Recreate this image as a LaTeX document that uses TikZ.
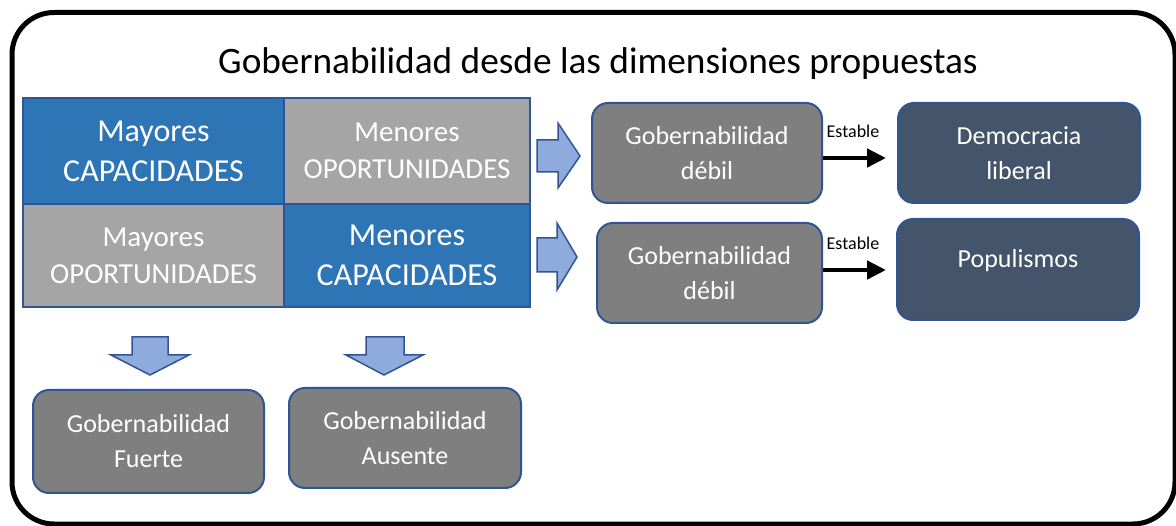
\documentclass[tikz,border=0pt]{standalone}
\usepackage{fontspec}
\setmainfont{Carlito}
\usetikzlibrary{arrows.meta}
\definecolor{cblue}{HTML}{2E75B6}
\definecolor{cgray}{HTML}{A5A5A5}
\definecolor{boxgray}{HTML}{7F7F7F}
\definecolor{navy}{HTML}{44546A}
\definecolor{bordb}{HTML}{2F5597}
\definecolor{arrowblue}{HTML}{8FAADC}
\begin{document}
\begin{tikzpicture}[x=1pt,y=-1pt,
  cellblue/.style={draw=bordb, line width=1.2pt, fill=cblue, text=white, inner sep=0pt, align=center, font=\fontsize{32}{40}\selectfont},
  cellgray/.style={draw=bordb, line width=1.2pt, fill=cgray, text=white, inner sep=0pt, align=center, font=\fontsize{29}{37}\selectfont},
  gbox/.style={draw=bordb, line width=2pt, rounded corners=16pt, fill=boxgray, text=white, inner sep=0pt, align=center, font=\fontsize{26}{35}\selectfont},
  dbox/.style={gbox, fill=navy},
  blockarrow/.style={draw=bordb, line width=1.5pt, fill=arrowblue, line join=miter},
  blackarrow/.style={line width=4.5pt, -{Triangle[length=19pt, width=18pt]}},
  smalllabel/.style={font=\fontsize{18}{20}\selectfont, inner sep=0pt},
]
\useasboundingbox (0,0) rectangle (1176,526);
\begin{scope}
  \clip (0,0) rectangle (1176,526);
  \draw[line width=5pt, rounded corners=42pt] (12,12.5) rectangle (1175,524);
\end{scope}

\node[font=\fontsize{37.3}{44}\selectfont, inner sep=0pt] (title) at (598,64) {Gobernabilidad desde las dimensiones propuestas};

% grid
\node[cellblue, minimum width=261pt, minimum height=106pt] (tl) at (153.5,151) {Mayores\\CAPACIDADES};
\node[cellgray, minimum width=246pt, minimum height=106pt] (tr) at (407,151) {Menores\\OPORTUNIDADES};
\node[cellgray, minimum width=261pt, minimum height=103pt] (bl) at (153.5,255.5) {Mayores\\OPORTUNIDADES};
\node[cellblue, minimum width=246pt, minimum height=103pt] (br) at (407,255.5) {Menores\\CAPACIDADES};

% right boxes
\node[gbox, minimum width=230pt, minimum height=100pt] (deb1) at (707,153) {Gobernabilidad\\débil};
\node[gbox, minimum width=225pt, minimum height=100pt] (deb2) at (709.5,273) {Gobernabilidad\\débil};
\node[dbox, minimum width=242pt, minimum height=100pt] (dem) at (1019,153) {Democracia\\liberal};
\node[dbox, minimum width=242pt, minimum height=101pt] (pop) at (1018,269.5) {Populismos\\[-12pt]\mbox{}};

% bottom boxes
\node[gbox, minimum width=231pt, minimum height=103pt] (fue) at (148.5,441.5) {Gobernabilidad\\Fuerte};
\node[gbox, minimum width=232pt, minimum height=100pt] (aus) at (405,438) {Gobernabilidad\\Ausente};

% block arrows
\draw[blockarrow] (537,140) -- (558,140) -- (558,123) -- (580,156) -- (558,188) -- (558,172) -- (537,172) -- cycle;
\draw[blockarrow] (537,238) -- (557,238) -- (557,223) -- (577,257) -- (557,290) -- (557,272) -- (537,272) -- cycle;
\draw[blockarrow] (132,337) -- (168,337) -- (168,355) -- (189,355) -- (150,375) -- (111,355) -- (132,355) -- cycle;
\draw[blockarrow] (366,337) -- (404,337) -- (404,355) -- (423,355) -- (384,375) -- (346,355) -- (366,355) -- cycle;

% black arrows
\draw[blackarrow, shorten >=11pt] ([yshift=-5pt]deb1.east) -- ([yshift=-5pt]deb1.east -| dem.west);
\draw[blackarrow, shorten >=10pt] ([yshift=3pt]deb2.east) -- ([yshift=3pt]deb2.east -| pop.west);
\node[smalllabel] (est1) at (853,131) {Estable};
\node[smalllabel] (est2) at (853,243) {Estable};
\end{tikzpicture}
\end{document}
